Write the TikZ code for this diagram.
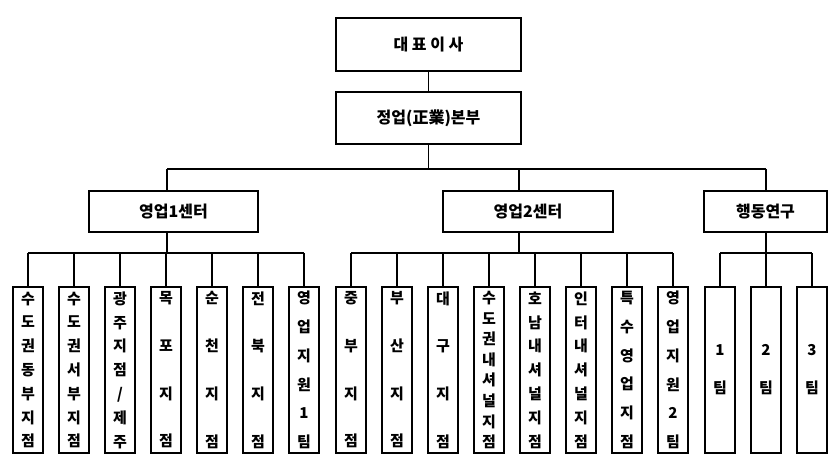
\documentclass[tikz,border=0pt]{standalone}
\usepackage{fontspec}
\setmainfont{Noto Sans CJK KR}
\begin{document}
\begin{tikzpicture}[x=1pt, y=-1pt, line width=1.1pt,
	box/.style={draw, inner sep=0, font=\fontsize{16}{19}\selectfont\bfseries},
	leaf/.style={draw, inner sep=0, minimum width=30, minimum height=166, align=center, font=\fontsize{15}{#1}\selectfont\bfseries}]
	\useasboundingbox (0,0) rectangle (837,462);
	% top
	\node[box, minimum width=185, minimum height=53] (ceo) at (428.5,44.5) {대 표 이 사};
	\node[box, minimum width=185, minimum height=52] (hq) at (428.5,118) {정업(正業)본부};
	\node[box, minimum width=169, minimum height=41] (ctr1) at (173.5,211.5) {영업1센터};
	\node[box, minimum width=170, minimum height=41] (ctr2) at (528,211.5) {영업2센터};
	\node[box, minimum width=123, minimum height=41] (lab) at (765.5,211.5) {행동연구};
	% 영업1센터
	\node[leaf=23.8] (s1) at (28,370) {수\\도\\권\\동\\부\\지\\점};
	\node[leaf=23.8] (s2) at (74,370) {수\\도\\권\\서\\부\\지\\점};
	\node[leaf=23.8] (s3) at (120,370) {광\\주\\지\\점\\/\\제\\주};
	\node[leaf=47.7] (s4) at (166,370) {목\\포\\지\\점};
	\node[leaf=47.7] (s5) at (212,370) {순\\천\\지\\점};
	\node[leaf=47.7] (s6) at (258,370) {전\\북\\지\\점};
	\node[leaf=28.8] (s7) at (304,370) {영\\업\\지\\원\\1\\팀};
	% 영업2센터
	\node[leaf=47.7] (t1) at (351,370) {중\\부\\지\\점};
	\node[leaf=47.7] (t2) at (397,370) {부\\산\\지\\점};
	\node[leaf=47.7] (t3) at (443,370) {대\\구\\지\\점};
	\node[leaf=20.6] (t4) at (489,370) {수\\도\\권\\내\\셔\\널\\지\\점};
	\node[leaf=23.8] (t5) at (535,370) {호\\남\\내\\셔\\널\\지\\점};
	\node[leaf=23.8] (t6) at (581,370) {인\\터\\내\\셔\\널\\지\\점};
	\node[leaf=28.8] (t7) at (627,370) {특\\수\\영\\업\\지\\점};
	\node[leaf=28.8] (t8) at (673,370) {영\\업\\지\\원\\2\\팀};
	% 행동연구
	\node[leaf=38] (u1) at (720,370) {1\\팀};
	\node[leaf=38] (u2) at (766,370) {2\\팀};
	\node[leaf=38] (u3) at (812,370) {3\\팀};
	% connectors
	\coordinate (m1) at (167,169);
	\coordinate (m2) at (519,169);
	\coordinate (m3) at (766,169);
	\coordinate (n1) at (167,253);
	\coordinate (n2) at (519,253);
	\coordinate (n3) at (766,253);
	\draw (ceo) -- (hq);
	\draw (hq) -- (hq |- m1);
	\draw (m1) -- (m3);
	\foreach \c/\m/\n in {ctr1/m1/n1, ctr2/m2/n2, lab/m3/n3} {
		\draw (\m) -- (\m |- \c.north);
		\draw (\n |- \c.south) -- (\n);
	}
	\draw (s1.north |- n1) -- (s7.north |- n1);
	\draw (t1.north |- n2) -- (t8.north |- n2);
	\draw (u1.north |- n3) -- (u3.north |- n3);
	\foreach \i in {1,...,7} \draw (s\i.north) -- (s\i.north |- n1);
	\foreach \i in {1,...,8} \draw (t\i.north) -- (t\i.north |- n2);
	\foreach \i in {1,...,3} \draw (u\i.north) -- (u\i.north |- n3);
\end{tikzpicture}
\end{document}
